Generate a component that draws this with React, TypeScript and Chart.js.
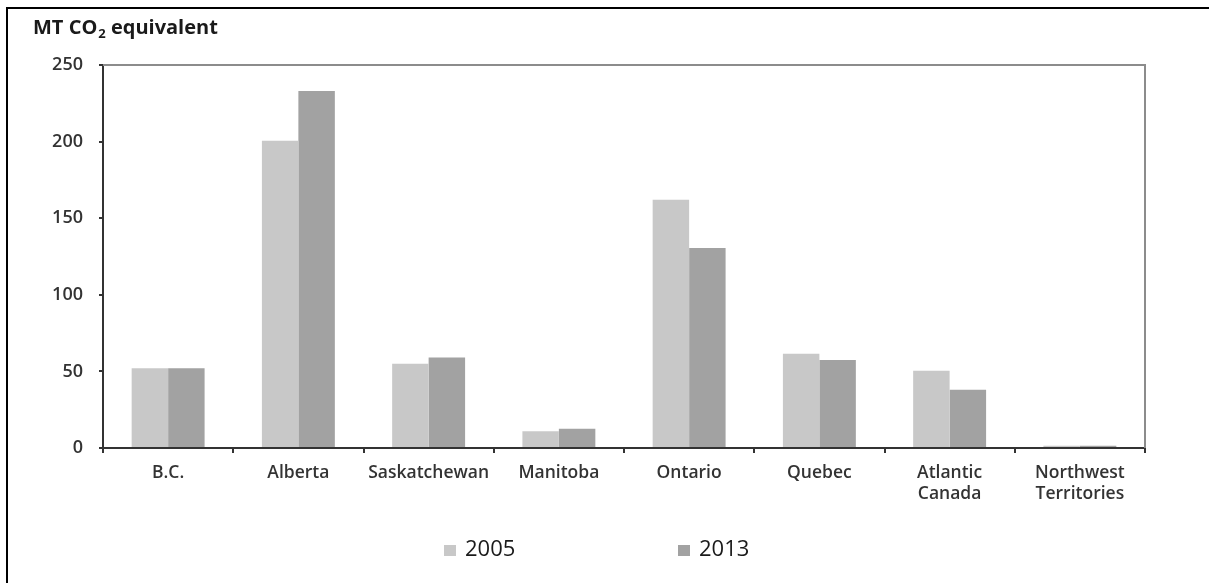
import React, { useEffect, useRef } from "react";
import { Chart, registerables } from "chart.js";

Chart.register(...registerables);

// Emissions by province, megatonnes CO2 equivalent
const provinces: (string | string[])[] = [
  "B.C.",
  "Alberta",
  "Saskatchewan",
  "Manitoba",
  "Ontario",
  "Quebec",
  ["Atlantic", "Canada"],
  ["Northwest", "Territories"],
];
const emissions2005: number[] = [52, 200.5, 55, 11, 162, 61.5, 50.5, 1.5];
const emissions2013: number[] = [52, 233, 59, 12.5, 130.5, 57.5, 38, 1.5];
const seriesNames: string[] = ["2005", "2013"];
const yTicks: number[] = [0, 50, 100, 150, 200, 250];

const COLOR_2005 = "#c8c8c8";
const COLOR_2013 = "#a2a2a2";
const FONT = "'Open Sans', 'Liberation Sans', sans-serif";

// Page frame, unit title, plot outline and the bottom legend
const decorations = {
  id: "decorations",
  beforeDraw(chart: Chart) {
    const { ctx, width, height } = chart;
    ctx.save();
    ctx.fillStyle = "#ffffff";
    ctx.fillRect(0, 0, width, height);
    ctx.fillStyle = "#000000";
    ctx.fillRect(6, 7, width - 6, 2);
    ctx.fillRect(6, 7, 2, height - 7);
    ctx.restore();
  },
  afterDraw(chart: Chart) {
    const { ctx, chartArea } = chart;
    ctx.save();
    // light outline on top and right of plot area
    ctx.strokeStyle = "#8c8c8c";
    ctx.lineWidth = 2;
    ctx.beginPath();
    ctx.moveTo(chartArea.left, chartArea.top);
    ctx.lineTo(chartArea.right, chartArea.top);
    ctx.lineTo(chartArea.right, chartArea.bottom);
    ctx.stroke();

    // unit title with subscript
    ctx.fillStyle = "#1a1a1a";
    ctx.textBaseline = "alphabetic";
    ctx.textAlign = "left";
    let x = 33;
    const base = 34;
    ctx.font = `bold 20px ${FONT}`;
    ctx.fillText("MT CO", x, base);
    x += ctx.measureText("MT CO").width + 1;
    ctx.font = `bold 13px ${FONT}`;
    ctx.fillText("2", x, base + 4);
    x += ctx.measureText("2").width;
    ctx.font = `bold 20px ${FONT}`;
    ctx.fillText(" equivalent", x, base);

    // legend
    const colors = [COLOR_2005, COLOR_2013];
    const starts = [444, 678];
    ctx.font = `22px ${FONT}`;
    ctx.textBaseline = "middle";
    seriesNames.forEach((name, i) => {
      ctx.fillStyle = colors[i];
      ctx.fillRect(starts[i], 545, 12, 11);
      ctx.fillStyle = "#1a1a1a";
      ctx.fillText(name, starts[i] + 21, 550);
    });
    ctx.restore();
  },
};

export default function App() {
  const canvasRef = useRef<HTMLCanvasElement | null>(null);

  useEffect(() => {
    const canvas = canvasRef.current;
    if (!canvas) return;
    const chart = new Chart(canvas, {
      type: "bar",
      data: {
        labels: provinces,
        datasets: [
          {
            label: seriesNames[0],
            data: emissions2005,
            backgroundColor: COLOR_2005,
            borderWidth: 0,
          },
          {
            label: seriesNames[1],
            data: emissions2013,
            backgroundColor: COLOR_2013,
            borderWidth: 0,
          },
        ],
      },
      options: {
        responsive: false,
        animation: false,
        layout: { padding: { left: 0, top: 65, right: 64, bottom: 75 } },
        plugins: {
          legend: { display: false },
          tooltip: { enabled: false },
          title: { display: false },
        },
        datasets: {
          bar: { categoryPercentage: 0.56, barPercentage: 1.0 },
        },
        scales: {
          x: {
            offset: true,
            grid: {
              offset: true,
              drawOnChartArea: false,
              drawTicks: true,
              tickLength: 5,
              color: "#333333",
              lineWidth: 2,
            },
            border: { display: true, color: "#333333", width: 2 },
            ticks: {
              color: "#333333",
              font: { family: FONT, size: 17.5, weight: "600", lineHeight: 1.2 },
              padding: 10,
              maxRotation: 0,
              autoSkip: false,
            },
            afterFit(scale: any) {
              scale.height = 60;
            },
          },
          y: {
            min: 0,
            max: 250,
            afterBuildTicks(scale: any) {
              scale.ticks = yTicks.map((v) => ({ value: v }));
            },
            grid: {
              drawOnChartArea: false,
              drawTicks: true,
              tickLength: 4,
              color: "#333333",
              lineWidth: 2,
            },
            border: { display: true, color: "#333333", width: 2 },
            ticks: {
              color: "#333333",
              font: { family: FONT, size: 18, weight: "600" },
              padding: 16,
            },
            afterFit(scale: any) {
              scale.width = 103;
            },
          },
        },
      },
      plugins: [decorations],
    });
    return () => chart.destroy();
  }, []);

  return (
    <div style={{ position: "absolute", left: 0, top: 0, width: 1209, height: 583 }}>
      <canvas ref={canvasRef} width={1209} height={583} />
    </div>
  );
}
